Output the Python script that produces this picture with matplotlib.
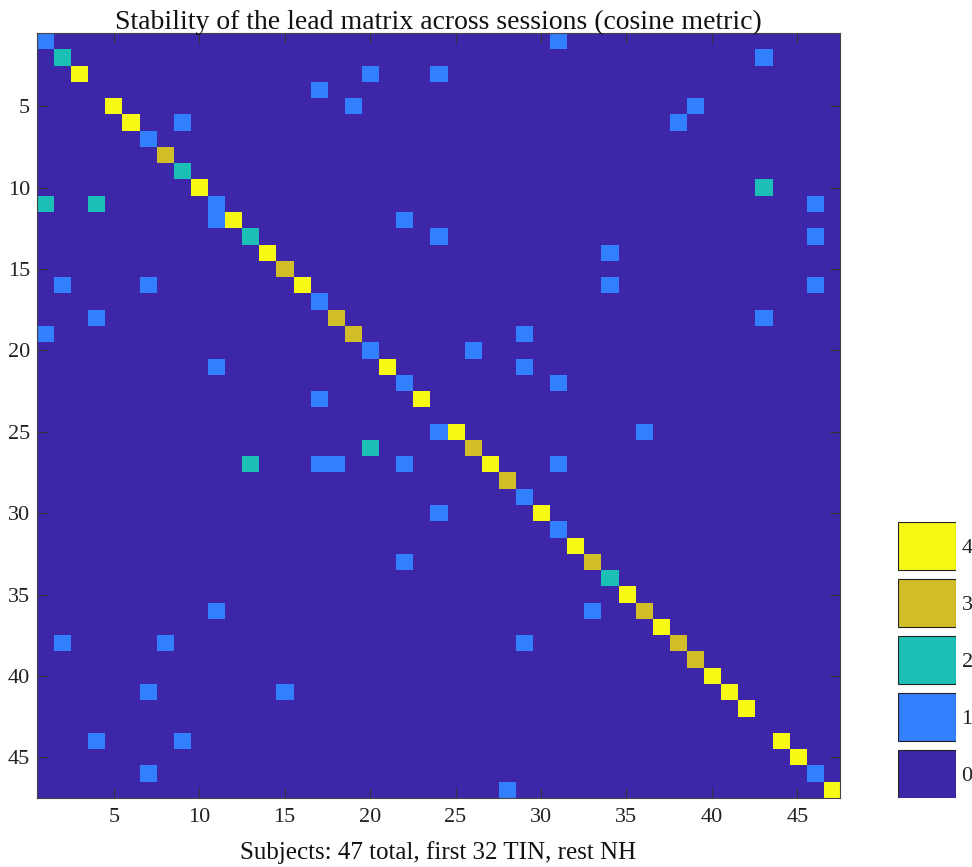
import numpy as np
import matplotlib
matplotlib.use('Agg')
import matplotlib.pyplot as plt
from matplotlib.colors import ListedColormap, BoundaryNorm

plt.rcParams['font.family'] = ['Liberation Serif', 'DejaVu Serif']

##############################################################

n_subjects = 47

# value on the diagonal for subjects 1..47
diag_counts = [1, 2, 4, 0, 4, 4, 1, 3, 2, 4,
               1, 4, 2, 4, 3, 4, 1, 3, 3, 1,
               4, 1, 4, 0, 4, 3, 4, 3, 1, 4,
               1, 4, 3, 2, 4, 3, 4, 3, 3, 4,
               4, 4, 0, 4, 4, 1, 4]

# off-diagonal entries (1-based row, col)
off_rows = [1, 2, 3, 3, 4, 5, 5, 6, 6, 10,
            11, 11, 11, 12, 12, 13, 13, 14, 16, 16,
            16, 16, 18, 18, 19, 19, 20, 21, 21, 22,
            23, 25, 25, 26, 27, 27, 27, 27, 27, 30,
            33, 36, 36, 38, 38, 38, 41, 41, 44, 44,
            46, 47]
off_cols = [31, 43, 20, 24, 17, 19, 39, 9, 38, 43,
            1, 4, 46, 11, 22, 24, 46, 34, 2, 7,
            34, 46, 4, 43, 1, 29, 26, 11, 29, 31,
            17, 24, 36, 20, 13, 17, 18, 22, 31, 24,
            22, 11, 33, 2, 8, 29, 7, 15, 4, 9,
            7, 28]
off_vals = [1, 1, 1, 1, 1, 1, 1, 1, 1, 2,
            2, 2, 1, 1, 1, 1, 1, 1, 1, 1,
            1, 1, 1, 1, 1, 1, 1, 1, 1, 1,
            1, 1, 1, 2, 2, 1, 1, 1, 1, 1,
            1, 1, 1, 1, 1, 1, 1, 1, 1, 1,
            1, 1]

levels = [0, 1, 2, 3, 4]
level_colors = ['#3d26a8', '#3380ff', '#1bbfb5', '#d0bd28', '#f8f815']

ticks = [5, 10, 15, 20, 25, 30, 35, 40, 45]

##############################################################

mat = np.zeros((n_subjects, n_subjects))
mat[np.arange(n_subjects), np.arange(n_subjects)] = diag_counts
for r, c, v in zip(off_rows, off_cols, off_vals):
    mat[r - 1, c - 1] = v

cmap = ListedColormap(level_colors)
norm = BoundaryNorm(np.arange(-0.5, 5.5, 1), cmap.N)

fig = plt.figure(figsize=(9.72, 8.67), dpi=100)
ax = fig.add_axes([37 / 972, 1 - 798 / 867, 803 / 972, 765 / 867])
ax.imshow(mat, cmap=cmap, norm=norm, aspect='auto', interpolation='nearest',
          extent=(0.5, n_subjects + 0.5, n_subjects + 0.5, 0.5))
ax.set_xlim(0.5, n_subjects + 0.5)
ax.set_ylim(n_subjects + 0.5, 0.5)
ax.set_xticks(ticks)
ax.set_yticks(ticks)
ax.tick_params(direction='in', top=True, right=True, length=7, width=0.8,
               color='#333333', labelsize=16, labelcolor='#222222', pad=5)
ax.tick_params(axis='x', pad=7)
for s in ax.spines.values():
    s.set_color('#444444')
    s.set_linewidth(0.8)
ax.set_title('Stability of the lead matrix across sessions (cosine metric)',
             fontsize=20, pad=3, color='#111111')
ax.set_xlabel('Subjects: 47 total, first 32 TIN, rest NH', fontsize=18,
              labelpad=10, color='#111111')

# discrete colour key
cax = fig.add_axes([898 / 972, 1 - 798 / 867, 58 / 972, 276 / 867])
cax.bar([0] * len(levels), [0.84] * len(levels), bottom=np.array(levels) - 0.42,
        width=1, color=level_colors, edgecolor='#222222', linewidth=0.8)
cax.set_xlim(-0.5, 0.5)
cax.set_ylim(-0.42, 4.42)
for s in cax.spines.values():
    s.set_visible(False)
cax.set_xticks([])
cax.yaxis.tick_right()
cax.set_yticks(levels)
cax.tick_params(axis='y', length=0, labelsize=16, pad=4, labelcolor='#222222')

fig.savefig('out.png', dpi=100)
